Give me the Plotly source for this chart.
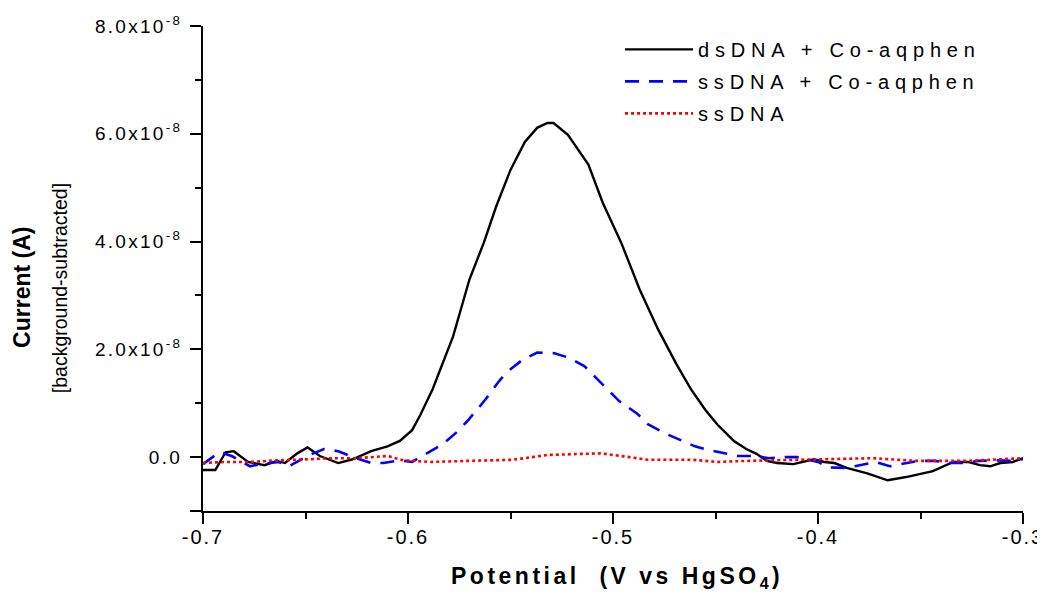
import plotly.graph_objects as go

# Potential (V vs HgSO4) and current (units of 1e-8 A)
ds_x = [-0.700, -0.694, -0.689, -0.685, -0.678, -0.670, -0.664, -0.660, -0.654, -0.649,
        -0.643, -0.634, -0.627, -0.618, -0.610, -0.604, -0.598, -0.594, -0.588, -0.578,
        -0.570, -0.563, -0.557, -0.550, -0.543, -0.537, -0.532, -0.529, -0.522, -0.512,
        -0.505, -0.496, -0.487, -0.478, -0.469, -0.462, -0.455, -0.449, -0.441, -0.435,
        -0.430, -0.425, -0.420, -0.412, -0.402, -0.397, -0.392, -0.386, -0.376, -0.366,
        -0.357, -0.344, -0.334, -0.327, -0.321, -0.316, -0.311, -0.305, -0.300]
ds_y = [-0.24, -0.24, 0.09, 0.11, -0.09, -0.15, -0.07, -0.11, 0.07, 0.18,
        0.02, -0.11, -0.04, 0.11, 0.20, 0.30, 0.50, 0.78, 1.26, 2.24,
        3.30, 3.98, 4.65, 5.33, 5.85, 6.11, 6.20, 6.20, 5.98, 5.43,
        4.72, 3.98, 3.11, 2.37, 1.72, 1.26, 0.88, 0.60, 0.30, 0.15,
        0.06, -0.07, -0.11, -0.13, -0.04, -0.09, -0.11, -0.20, -0.30, -0.43,
        -0.37, -0.26, -0.09, -0.09, -0.15, -0.17, -0.11, -0.09, -0.02]

ss_x = [-0.700, -0.692, -0.686, -0.677, -0.672, -0.663, -0.658, -0.648, -0.641, -0.634,
        -0.627, -0.618, -0.612, -0.604, -0.598, -0.590, -0.583, -0.576, -0.571, -0.565,
        -0.561, -0.556, -0.552, -0.544, -0.537, -0.529, -0.522, -0.514, -0.509, -0.502,
        -0.497, -0.488, -0.483, -0.474, -0.468, -0.460, -0.453, -0.445, -0.439, -0.430,
        -0.424, -0.416, -0.410, -0.400, -0.395, -0.386, -0.380, -0.372, -0.365, -0.357,
        -0.351, -0.343, -0.335, -0.328, -0.322, -0.313, -0.306, -0.300]
ss_y = [-0.13, 0.09, 0.02, -0.17, -0.13, -0.09, -0.17, 0.04, 0.15, 0.11,
        0.00, -0.11, -0.11, -0.06, -0.09, 0.09, 0.24, 0.47, 0.67, 0.94,
        1.13, 1.39, 1.57, 1.81, 1.94, 1.93, 1.85, 1.69, 1.50, 1.22,
        1.04, 0.80, 0.61, 0.43, 0.33, 0.20, 0.13, 0.07, 0.02, 0.02,
        -0.02, 0.00, 0.00, -0.09, -0.19, -0.20, -0.15, -0.09, -0.17, -0.11,
        -0.07, -0.07, -0.11, -0.11, -0.07, -0.06, -0.07, -0.04]

s_x = [-0.700, -0.690, -0.677, -0.664, -0.649, -0.638, -0.625, -0.610, -0.602, -0.589,
       -0.571, -0.549, -0.532, -0.510, -0.506, -0.492, -0.483, -0.461, -0.449, -0.435,
       -0.415, -0.392, -0.373, -0.352, -0.327, -0.300]
s_y = [-0.11, -0.09, -0.09, -0.06, -0.04, -0.02, -0.02, 0.02, -0.06, -0.09,
       -0.07, -0.05, 0.04, 0.07, 0.07, 0.00, -0.05, -0.05, -0.09, -0.07,
       -0.05, -0.04, -0.02, -0.07, -0.07, -0.02]

series_names = ["dsDNA + Co-aqphen", "ssDNA + Co-aqphen", "ssDNA"]
x_ticks = [-0.7, -0.6, -0.5, -0.4, -0.3]
x_ticklabels = ["-0.7", "-0.6", "-0.5", "-0.4", "-0.3"]
y_ticks = [-1e-8, 0, 2e-8, 4e-8, 6e-8, 8e-8]
y_ticklabels = ["", "0.0", "2.0x10<sup>-8</sup>", "4.0x10<sup>-8</sup>",
                "6.0x10<sup>-8</sup>", "8.0x10<sup>-8</sup>"]

SCALE = 1e-8
FONT = "Liberation Sans, Arial, sans-serif"


def spaced(t, px):
    return '<span style="letter-spacing:%spx">%s</span>' % (px, t)


fig = go.Figure()
fig.add_trace(go.Scatter(x=ds_x, y=[v * SCALE for v in ds_y], mode="lines",
                         name=spaced(series_names[0], 5.8), legendgroup="a",
                         line=dict(color="#000000", width=2.4)))
fig.add_trace(go.Scatter(x=ss_x, y=[v * SCALE for v in ss_y], mode="lines",
                         name=spaced(series_names[1], 5.8), legendgroup="b",
                         line=dict(color="#0000FF", width=2.6, dash="14px,10px")))
fig.add_trace(go.Scatter(x=s_x, y=[v * SCALE for v in s_y], mode="lines",
                         name=spaced(series_names[2], 5.8), legendgroup="c",
                         line=dict(color="#FF0000", width=2.6, dash="3px,3px")))

fig.update_layout(
    width=1045, height=594,
    margin=dict(l=195, r=30, t=18, b=91, autoexpand=False),
    paper_bgcolor="white", plot_bgcolor="white",
    font=dict(family=FONT, color="#000000"),
    showlegend=True,
    legend=dict(x=0.5086, y=0.992, xanchor="left", yanchor="top",
                bgcolor="rgba(0,0,0,0)", font=dict(size=20, family=FONT),
                itemwidth=68, tracegroupgap=3, traceorder="grouped"),
    xaxis=dict(range=[-0.7, -0.3], showgrid=False, zeroline=False, automargin=False,
               showline=True, linecolor="#000000", linewidth=2,
               tickmode="array", tickvals=x_ticks,
               ticktext=[spaced(t, 2) for t in x_ticklabels],
               ticks="outside", ticklen=11, tickwidth=2, tickcolor="#000000",
               tickfont=dict(size=20, family=FONT), ticklabelstandoff=-4,
               minor=dict(tickvals=[-0.65, -0.55, -0.45, -0.35], ticks="outside",
                          ticklen=6, tickwidth=2, tickcolor="#000000")),
    yaxis=dict(range=[-1e-8, 8e-8], showgrid=False, zeroline=False, automargin=False,
               showline=True, linecolor="#000000", linewidth=2,
               tickmode="array", tickvals=y_ticks,
               ticktext=[spaced(t, 2.3) for t in y_ticklabels],
               ticks="outside", ticklen=11, tickwidth=2, tickcolor="#000000",
               tickfont=dict(size=19, family=FONT), ticklabelstandoff=4,
               minor=dict(tickvals=[1e-8, 3e-8, 5e-8, 7e-8], ticks="outside",
                          ticklen=6, tickwidth=2, tickcolor="#000000")),
    annotations=[
        dict(text="<b>Current (A)</b>", xref="paper", yref="paper",
             x=-0.2207, y=0.46, xanchor="center", yanchor="middle",
             textangle=-90, showarrow=False, font=dict(size=23, family=FONT)),
        dict(text="[background-subtracted]", xref="paper", yref="paper",
             x=-0.174, y=0.46, xanchor="center", yanchor="middle",
             textangle=-90, showarrow=False, font=dict(size=19.5, family=FONT)),
        dict(text=spaced("<b>Potential  (V vs HgSO<sub>4</sub>)</b>", 3.5),
             xref="paper", yref="paper", x=0.505, y=-0.138,
             xanchor="center", yanchor="middle", showarrow=False,
             font=dict(size=23, family=FONT)),
    ],
)

fig.write_html("out.html")
